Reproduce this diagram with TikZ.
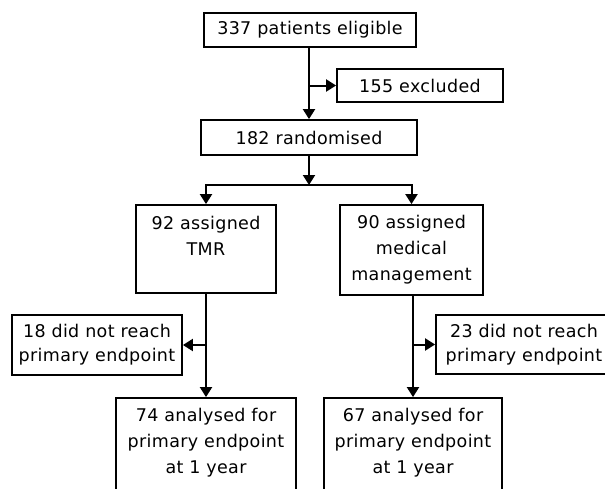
\documentclass[tikz,border=0pt]{standalone}
\usepackage{fontspec}
\setmainfont{DejaVu Sans}[LetterSpace=2]
\usetikzlibrary{arrows.meta}
\begin{document}
\begin{tikzpicture}[x=1pt,y=-1pt,
  box/.style={draw=black,line width=1.8pt,align=center,inner sep=0pt,
    font=\fontsize{17.5}{26}\selectfont},
  arr/.style={line width=2pt,-{Triangle[width=12pt,length=10pt]}},
  ln/.style={line width=2pt}]
\useasboundingbox (0,0) rectangle (605,488);
\clip (0,0) rectangle (605,488);
\node[box,minimum width=212pt,minimum height=34pt] (elig) at (310,30) {337 patients eligible};
\node[box,minimum width=166pt,minimum height=33pt] (excl) at (420,85.5) {155 excluded};
\node[box,minimum width=216pt,minimum height=35pt] (rand) at (309,137.5) {182 randomised};
\node[box,minimum width=140pt,minimum height=88pt] (tmr) at (206,249) {92 assigned\\TMR\\\mbox{}};
\node[box,minimum width=143pt,minimum height=90pt] (med) at (411.5,250) {90 assigned\\medical\\management};
\node[box,minimum width=170pt,minimum height=60pt,font=\fontsize{17.5}{24}\selectfont] (l18) at (97,345) {18 did not reach\\primary endpoint};
\node[box,minimum width=176pt,minimum height=59pt,font=\fontsize{17.5}{24}\selectfont] (r23) at (524,344.5) {23 did not reach\\primary endpoint};
\node[box,minimum width=180pt,minimum height=112pt] (al) at (206,454) {74 analysed for\\primary endpoint\\at 1 year\\\mbox{}};
\node[box,minimum width=178pt,minimum height=112pt] (ar) at (413,454) {67 analysed for\\primary endpoint\\at 1 year\\\mbox{}};
\coordinate (j1) at (309,85.5);
\coordinate (j2) at (309,185);
\coordinate (j3) at (206,345);
\coordinate (j4) at (413,344.5);
\draw[arr] (elig.south -| j1) -- (rand.north -| j1);
\draw[arr] (j1) -- (excl.west);
\draw[arr] (rand.south -| j2) -- (j2);
\draw[arr] (j2) -| (tmr.north);
\draw[arr] (j2) -| (med.north);
\draw[arr] (tmr.south) -- (al.north);
\draw[arr] (j3) -- (l18.east);
\draw[arr] (med.south -| j4) -- (ar.north -| j4);
\draw[arr] (j4) -- (r23.west);
\end{tikzpicture}
\end{document}
